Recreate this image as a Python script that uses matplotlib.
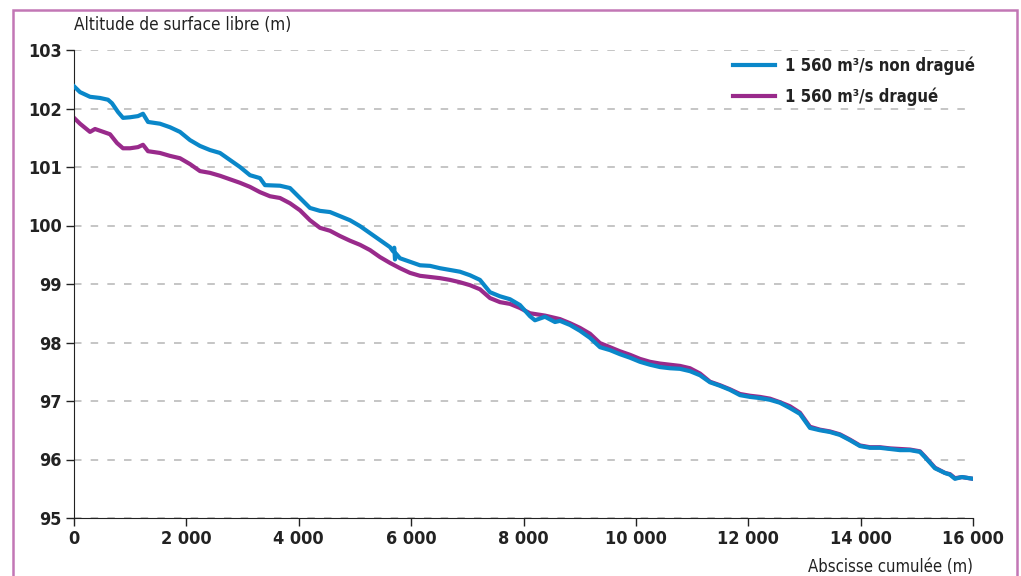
import matplotlib
matplotlib.use("Agg")
import matplotlib.pyplot as plt
from matplotlib.patches import Rectangle
from matplotlib.ticker import FuncFormatter

plt.rcParams['font.family'] = ['DejaVu Sans']
plt.rcParams['font.stretch'] = 'condensed'

x_blue = [0, 107, 285, 463, 605, 676, 783, 872, 997, 1139, 1228, 1317, 1530, 1708, 1886,
          2064, 2242, 2420, 2598, 2776, 2954, 3132, 3310, 3399, 3666, 3844, 4022, 4200,
          4378, 4556, 4734, 4912, 5090, 5268, 5446, 5624, 5677, 5700, 5713, 5730, 5802,
          5980, 6158, 6336, 6514, 6692, 6869, 7047, 7225, 7403, 7581, 7759, 7937, 8115,
          8204, 8382, 8560, 8649, 8827, 9005, 9183, 9361, 9539, 9717, 9895, 10073, 10251,
          10429, 10607, 10785, 10963, 11141, 11319, 11497, 11675, 11853, 12031, 12209,
          12387, 12564, 12742, 12920, 13098, 13276, 13454, 13632, 13810, 13988, 14166,
          14344, 14522, 14700, 14878, 15056, 15145, 15323, 15501, 15590, 15679, 15803, 16000]
y_blue = [102.38, 102.28, 102.20, 102.18, 102.15, 102.09, 101.94, 101.84, 101.85, 101.87,
          101.91, 101.77, 101.74, 101.68, 101.60, 101.46, 101.36, 101.29, 101.24, 101.12,
          101.00, 100.86, 100.81, 100.69, 100.68, 100.64, 100.47, 100.30, 100.25, 100.23,
          100.16, 100.09, 99.99, 99.87, 99.75, 99.63, 99.56, 99.62, 99.42, 99.52, 99.44,
          99.38, 99.32, 99.31, 99.27, 99.24, 99.21, 99.15, 99.07, 98.86, 98.79, 98.74,
          98.64, 98.45, 98.38, 98.44, 98.35, 98.37, 98.30, 98.20, 98.08, 97.92, 97.87,
          97.80, 97.74, 97.67, 97.62, 97.58, 97.56, 97.55, 97.51, 97.44, 97.32, 97.26,
          97.19, 97.10, 97.07, 97.05, 97.02, 96.97, 96.88, 96.78, 96.54, 96.50, 96.47,
          96.42, 96.33, 96.23, 96.20, 96.20, 96.18, 96.16, 96.16, 96.13, 96.04, 95.85,
          95.77, 95.74, 95.67, 95.70, 95.67]

x_purple = [0, 107, 285, 374, 463, 641, 765, 872, 997, 1139, 1228, 1317, 1530, 1708, 1886,
            2064, 2242, 2420, 2598, 2776, 2954, 3132, 3310, 3488, 3666, 3844, 4022, 4200,
            4378, 4556, 4734, 4912, 5090, 5268, 5446, 5624, 5802, 5980, 6158, 6336, 6514,
            6692, 6869, 7047, 7225, 7403, 7581, 7759, 7937, 8115, 8382, 8649, 8827, 9005,
            9183, 9361, 9539, 9717, 9895, 10073, 10251, 10429, 10607, 10785, 10963, 11141,
            11319, 11497, 11675, 11853, 12031, 12209, 12387, 12564, 12742, 12920, 13098,
            13276, 13454, 13632, 13810, 13988, 14166, 14344, 14522, 14700, 14878, 15056,
            15145, 15323, 15501, 15590, 15679, 15803, 16000]
y_purple = [101.84, 101.74, 101.60, 101.65, 101.62, 101.56, 101.41, 101.32, 101.32, 101.34,
            101.38, 101.27, 101.24, 101.19, 101.15, 101.05, 100.93, 100.90, 100.85, 100.79,
            100.73, 100.66, 100.57, 100.50, 100.47, 100.38, 100.26, 100.09, 99.96, 99.91,
            99.82, 99.74, 99.67, 99.58, 99.46, 99.36, 99.27, 99.19, 99.14, 99.12, 99.10,
            99.07, 99.03, 98.98, 98.91, 98.76, 98.69, 98.66, 98.59, 98.50, 98.46, 98.40,
            98.33, 98.25, 98.15, 97.99, 97.92, 97.85, 97.79, 97.72, 97.67, 97.64, 97.62,
            97.60, 97.56, 97.47, 97.33, 97.27, 97.20, 97.12, 97.09, 97.07, 97.04, 96.98,
            96.91, 96.80, 96.56, 96.51, 96.48, 96.43, 96.34, 96.24, 96.21, 96.21, 96.19,
            96.18, 96.17, 96.14, 96.05, 95.86, 95.77, 95.75, 95.68, 95.70, 95.67]

label_blue = "1 560 m³/s non dragué"
label_purple = "1 560 m³/s dragué"
x_ticks = [0, 2000, 4000, 6000, 8000, 10000, 12000, 14000, 16000]
y_ticks = [95, 96, 97, 98, 99, 100, 101, 102, 103]

fig = plt.figure(figsize=(10.21, 5.76), dpi=100)
fig.patches.append(Rectangle((13 / 1021, -0.1), (1017 - 13) / 1021, 1.1 - 10 / 576,
                             transform=fig.transFigure, fill=False,
                             edgecolor='#c277b5', linewidth=1.8))

ax = fig.add_axes([74 / 1021, 1 - 518 / 576, (973 - 74) / 1021, (518 - 50) / 576])
ax.plot(x_blue, y_blue, color='#0a87c9', lw=3.0, label=label_blue, solid_joinstyle='round', zorder=3)
ax.plot(x_purple, y_purple, color='#992a8b', lw=3.0, label=label_purple, solid_joinstyle='round', zorder=2)
ax.set_xlim(0, 16000)
ax.set_ylim(95, 103)
ax.set_xticks(x_ticks)
ax.set_yticks(y_ticks)
ax.xaxis.set_major_formatter(FuncFormatter(lambda v, p: f"{int(v):,}".replace(",", " ")))
ax.yaxis.set_major_formatter(FuncFormatter(lambda v, p: f"{int(v)}"))
for lab in ax.get_xticklabels() + ax.get_yticklabels():
    lab.set_fontweight('bold')
    lab.set_fontsize(13)
    lab.set_color('#222222')
ax.tick_params(axis='both', direction='out', length=6, width=1, color='#222222', pad=3)
ax.spines['top'].set_visible(False)
ax.spines['right'].set_visible(False)
ax.spines['left'].set_color('#222222')
ax.spines['bottom'].set_color('#222222')
ax.yaxis.grid(True, color='#bbbbbb', linestyle=(0, (4.5, 5.5)), linewidth=1.2)
ax.set_axisbelow(True)

ax.text(0, 1.035, "Altitude de surface libre (m)", transform=ax.transAxes,
        ha='left', va='bottom', fontsize=12.3, color='#222222')
ax.text(1, -0.085, "Abscisse cumulée (m)", transform=ax.transAxes,
        ha='right', va='top', fontsize=12, color='#222222')

leg = ax.legend(loc='upper right', bbox_to_anchor=(1.002, 0.987), frameon=False,
                borderaxespad=0, borderpad=0,
                fontsize=12, handlelength=2.5, handletextpad=0.6, labelspacing=0.75)
for t in leg.get_texts():
    t.set_fontweight('bold')
    t.set_color('#222222')

fig.savefig("out.png", dpi=100)
